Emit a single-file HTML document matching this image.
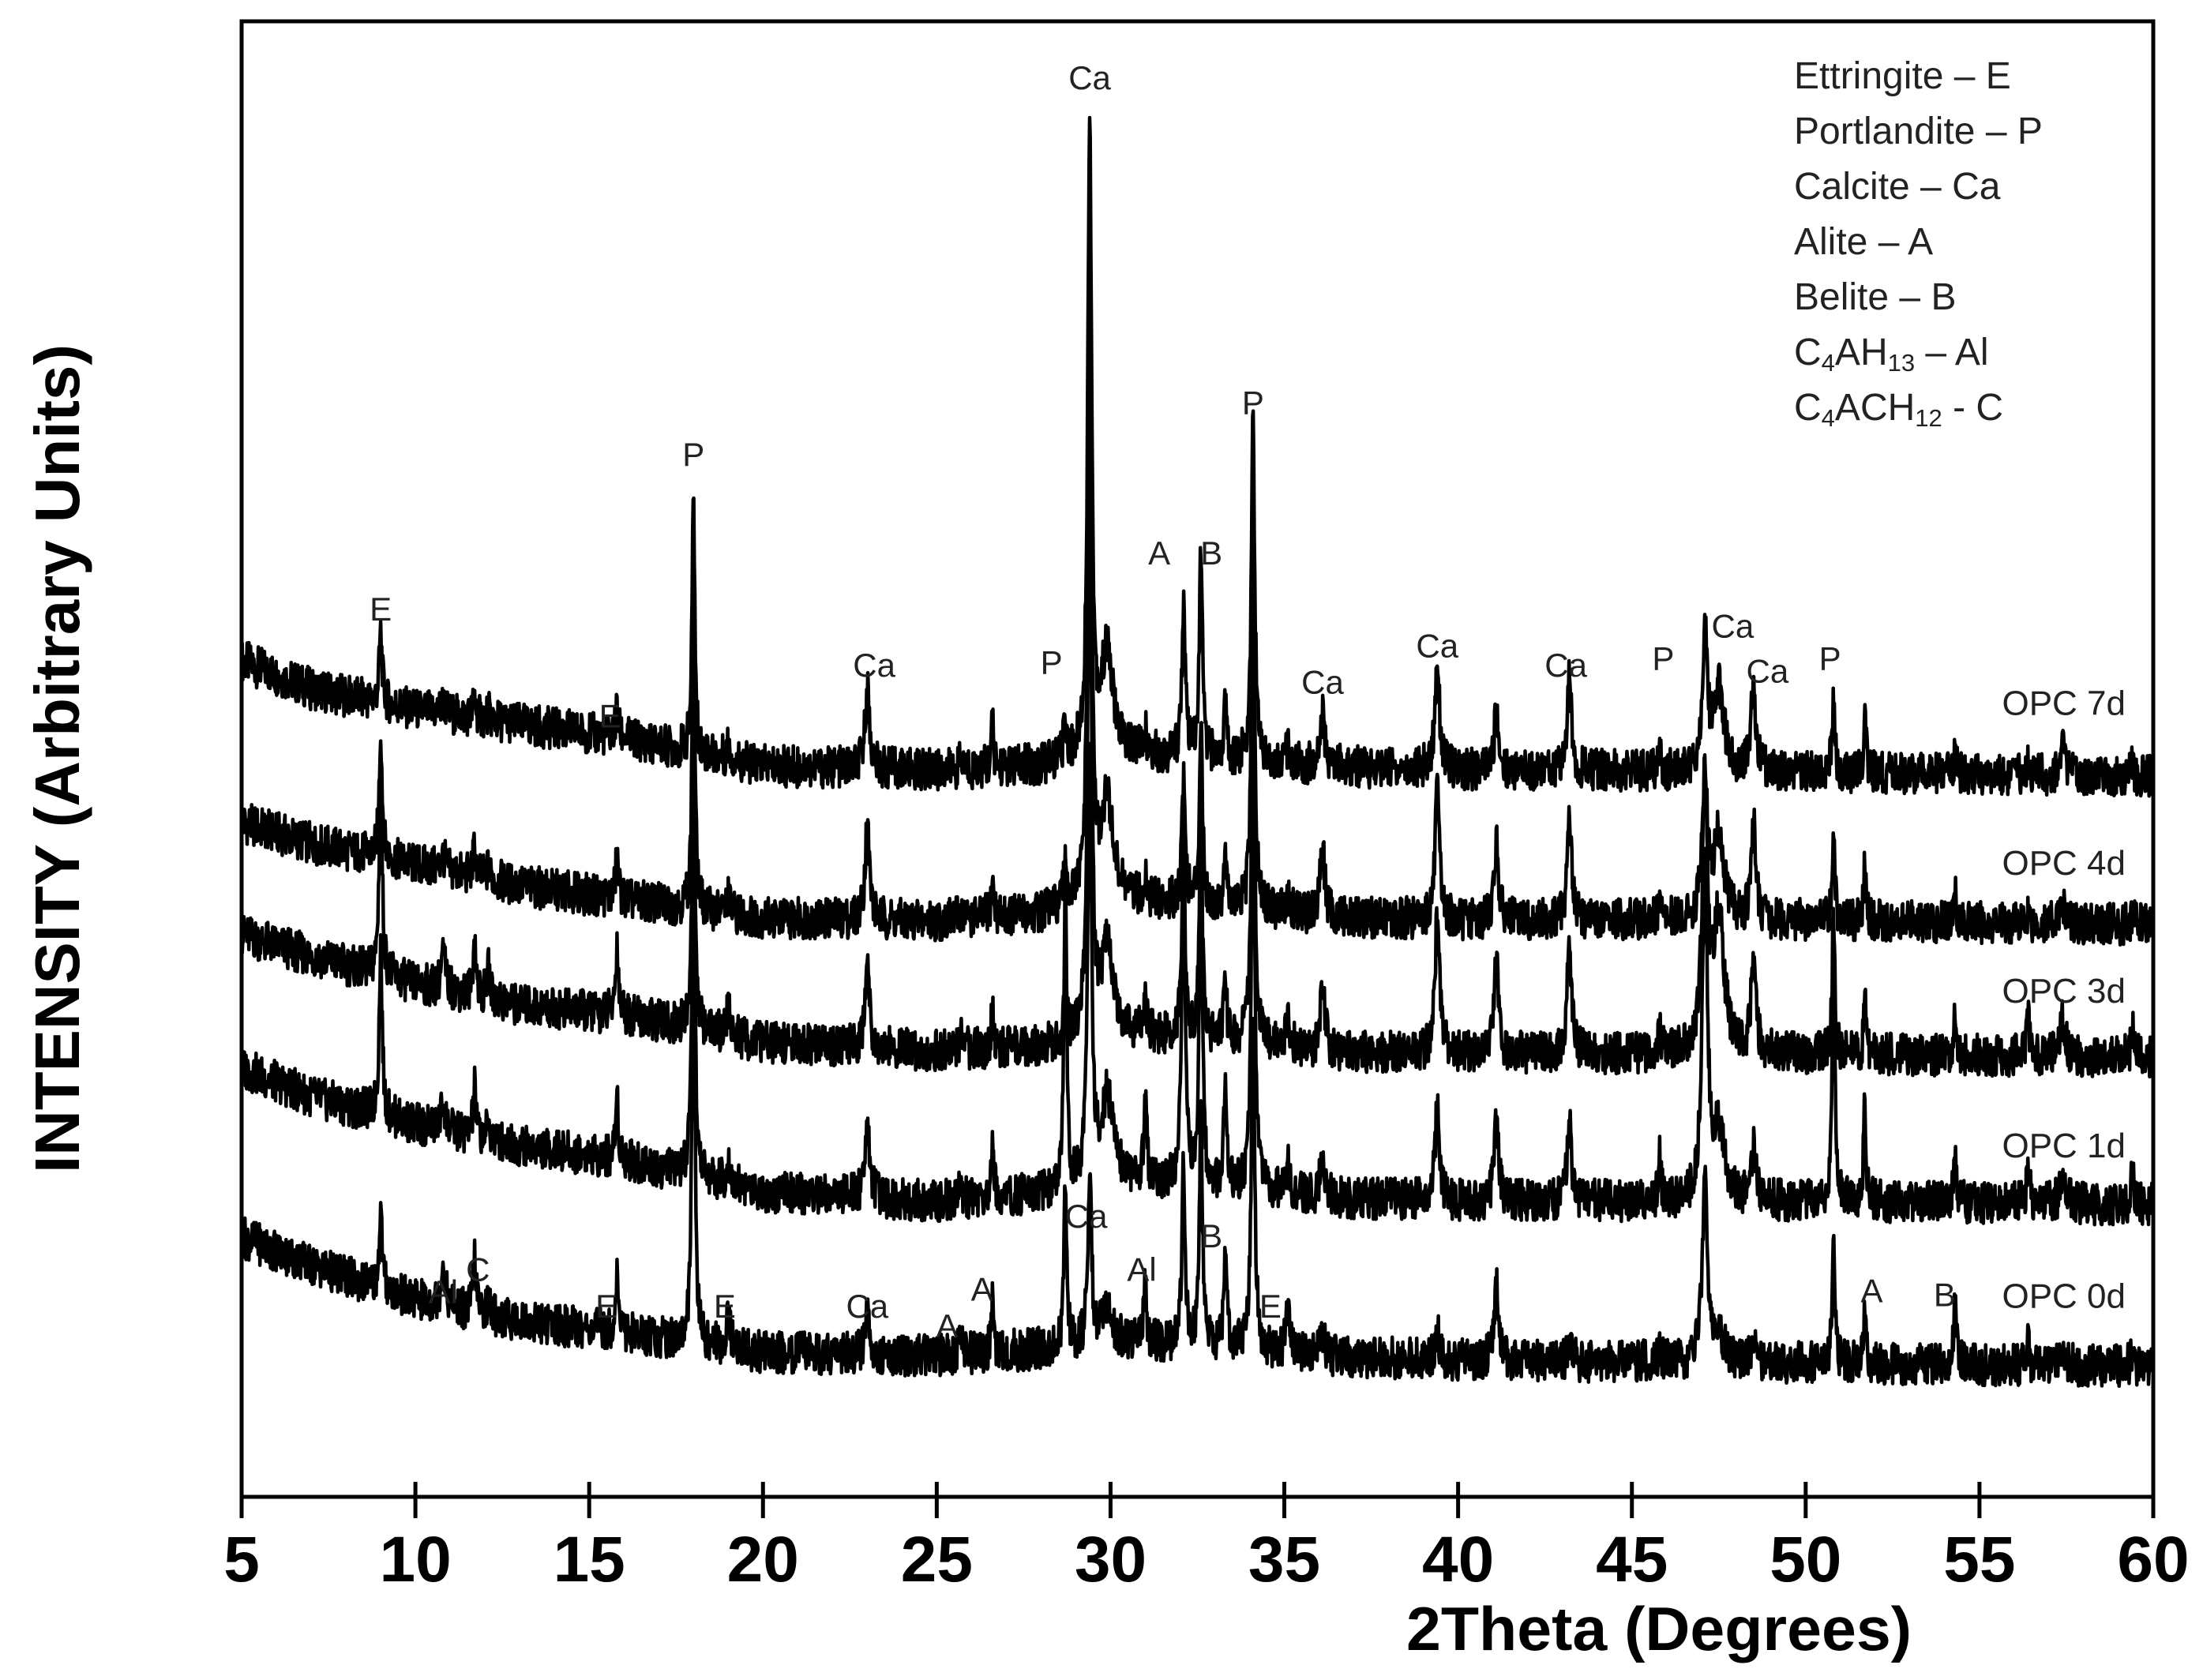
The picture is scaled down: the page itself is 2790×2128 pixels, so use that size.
<!DOCTYPE html>
<html><head><meta charset="utf-8"><style>
html,body{margin:0;padding:0;background:#fff}
svg{display:block}
</style></head><body>
<svg id="chart" width="2790" height="2128" viewBox="0 0 2790 2128" xmlns="http://www.w3.org/2000/svg">
<g id="series"></g>
<g id="axes"></g>
<g id="annot" font-family="Liberation Sans, sans-serif" font-size="42" fill="#222"></g>
<g font-family="Liberation Sans, sans-serif" font-size="48" fill="#222">
<text x="2272" y="112">Ettringite – E</text>
<text x="2272" y="182">Portlandite – P</text>
<text x="2272" y="252">Calcite – Ca</text>
<text x="2272" y="322">Alite – A</text>
<text x="2272" y="392">Belite – B</text>
<text x="2272" y="462">C<tspan font-size="31" dy="8">4</tspan><tspan dy="-8">AH</tspan><tspan font-size="31" dy="8">13</tspan><tspan dy="-8"> – Al</tspan></text>
<text x="2272" y="532">C<tspan font-size="31" dy="8">4</tspan><tspan dy="-8">ACH</tspan><tspan font-size="31" dy="8">12</tspan><tspan dy="-8"> - C</tspan></text>
</g>
</svg>
<script>
// ---- data ----
const xTicks = [5,10,15,20,25,30,35,40,45,50,55,60];
const seriesNames = ["OPC 7d","OPC 4d","OPC 3d","OPC 1d","OPC 0d"];
const baseX = [5,7,10,13,16,20,25,28,30,33,36,40,50,60];
const base7d = [595,575,560,550,540,520,517,520,530,525,520,517,515,513];
const base4d = [480,465,450,435,425,412,410,415,425,420,413,410,410,407];
const base3d = [400,385,365,350,343,323,317,320,330,325,317,315,315,313];
const base1d = [305,285,265,250,240,217,210,215,225,220,213,210,210,208];
const base0d = [185,165,140,125,117,103,100,105,110,107,100,97,95,93];
const peakPos   = [9.0,10.8,11.7,12.1,15.8,18.0,19.0,23.0,25.7,26.6,28.7,29.4,29.9,31.0,32.1,32.6,33.3,34.1,35.1,36.1,39.4,41.1,43.2,45.8,47.1,47.5,48.5,50.8,51.7,54.3,56.4,57.4,59.4];
const peakWidth = [0.08,0.12,0.08,0.09,0.08,0.07,0.09,0.12,0.12,0.07,0.07,0.1,0.32,0.08,0.09,0.08,0.07,0.09,0.12,0.12,0.12,0.12,0.12,0.07,0.14,0.28,0.12,0.07,0.06,0.07,0.07,0.14,0.07];
const peaks7d = [50,8,15,5,20,190,10,58,5,30,30,455,70,15,110,150,40,243,10,35,80,40,65,15,95,60,65,55,50,15,10,20,10];
const peaks4d = [90,10,20,8,30,235,12,68,5,25,35,450,70,20,90,135,40,255,15,50,90,55,75,15,100,60,70,60,40,25,10,15,10];
const peaks3d = [150,25,40,20,50,250,25,65,8,25,40,400,60,25,130,160,50,280,20,50,100,65,80,20,190,100,70,100,40,35,30,25,20];
const peaks1d = [120,20,35,10,45,300,20,60,8,40,235,300,60,60,250,240,80,300,20,30,65,55,55,30,235,50,40,210,80,45,35,20,25];
const peaks0d = [57,30,40,10,40,350,25,30,10,35,120,115,20,40,125,165,80,240,25,15,20,55,10,10,130,20,15,105,40,50,15,8,10];
const labelTexts = ["Ca","P","E","E","Ca","P","A","B","P","Ca","Ca","Ca","P","Ca","Ca","P","Al","C","E","E","Ca","A","A","Ca","Al","B","E","A","B"];
const labelX = [29.4,18.0,9.0,15.6,23.2,28.3,31.4,32.9,34.1,36.1,39.4,43.1,45.9,47.9,48.9,50.7,10.8,11.8,15.5,18.9,23.0,25.3,26.3,29.3,30.9,32.9,34.6,51.9,54.0];
const labelV = [1010,742,632,556,592,594,672,672,779,580,606,592,597,620,588,597,146,162,136,136,136,122,148,200,162,186,136,147,144];
const nameV = [565,451,360,250,143];

// ---- scales ----
const L=306,R=2727,T=27,B=1896;
const xs = d => L + (d-5)/55*(R-L);
const ys = v => B - v/1050*(B-T);
function interp(xa, ya, x){
  for(let i=0;i<xa.length-1;i++){ if(x<=xa[i+1]){const t=(x-xa[i])/(xa[i+1]-xa[i]);return ya[i]+t*(ya[i+1]-ya[i]);} }
  return ya[ya.length-1];
}
function jitter(i,k){ // deterministic texture for the noisy trace
  const s=Math.sin(i*12.9898+k*78.233)*43758.5453; return (s-Math.floor(s))-0.5;
}
const NS="http://www.w3.org/2000/svg";
const bases=[base7d,base4d,base3d,base1d,base0d];
const peakSets=[peaks7d,peaks4d,peaks3d,peaks1d,peaks0d];
const sg=document.getElementById('series');
for(let k=0;k<5;k++){
  let d="";
  let i=0;
  for(let x=5;x<=60.0001;x+=0.016,i++){
    let v=interp(baseX,bases[k],x);
    for(let p=0;p<peakPos.length;p++){
      const w=peakWidth[p], dx=(x-peakPos[p])/w;
      v+=peakSets[k][p]/(1+dx*dx*2.5);
    }
    v+=jitter(i,k)*30;
    d+=(i?"L":"M")+xs(x).toFixed(1)+" "+ys(v).toFixed(1);
  }
  const path=document.createElementNS(NS,'path');
  path.setAttribute('d',d);
  path.setAttribute('fill','none');
  path.setAttribute('stroke','#000');
  path.setAttribute('stroke-width','4.5');
  path.setAttribute('stroke-linejoin','round');
  
  
  sg.appendChild(path);
  const t=document.createElementNS(NS,'text');
  t.setAttribute('x',2692);t.setAttribute('y',ys(nameV[k])+15);
  t.setAttribute('text-anchor','end');t.setAttribute('font-family','Liberation Sans, sans-serif');
  t.setAttribute('font-size','44');t.setAttribute('fill','#222');
  t.textContent=seriesNames[k];
  
  
  sg.appendChild(t);
}
const ag=document.getElementById('annot');
for(let i=0;i<labelTexts.length;i++){
  const t=document.createElementNS(NS,'text');
  t.setAttribute('x',xs(labelX[i]));t.setAttribute('y',ys(labelV[i])+15);
  t.setAttribute('text-anchor','middle');
  t.textContent=labelTexts[i];
  
  
  ag.appendChild(t);
}
const ax=document.getElementById('axes');
function el(tag,attrs,txt){const e=document.createElementNS(NS,tag);for(const a in attrs)e.setAttribute(a,attrs[a]);if(txt)e.textContent=txt;ax.appendChild(e);return e;}
const frame=el('rect',{x:L,y:T,width:R-L,height:B-T,fill:'none',stroke:'#000','stroke-width':5});


xTicks.forEach(v=>{
  const ln=el('line',{x1:xs(v),x2:xs(v),y1:B-19,y2:B+27,stroke:'#000','stroke-width':5});
  
  
  const tx=el('text',{x:xs(v),y:2003,'text-anchor':'middle','font-family':'Liberation Sans, sans-serif','font-weight':'bold','font-size':'82'},String(v));
  
  
});
const xt=el('text',{x:2101,y:2090,'text-anchor':'middle','font-family':'Liberation Sans, sans-serif','font-weight':'bold','font-size':'78',textLength:'640',lengthAdjust:'spacingAndGlyphs'},'2Theta (Degrees)');


const yt=el('text',{x:0,y:0,transform:'translate(100,961) rotate(-90)','text-anchor':'middle','font-family':'Liberation Sans, sans-serif','font-weight':'bold','font-size':'80',textLength:'1050',lengthAdjust:'spacingAndGlyphs'},'INTENSITY (Arbitrary Units)');


</script>
</body></html>
